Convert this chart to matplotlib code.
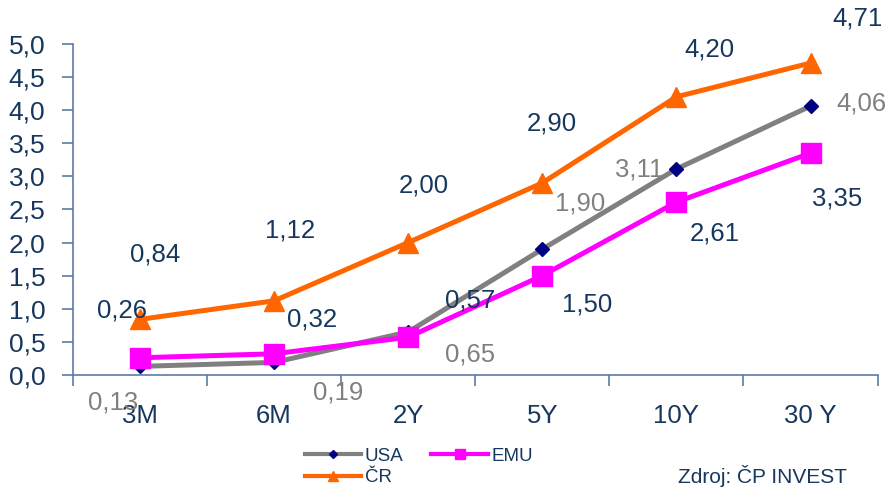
import matplotlib.pyplot as plt
from matplotlib.lines import Line2D
from matplotlib.ticker import FuncFormatter

plt.rcParams['font.family'] = ['Liberation Sans', 'DejaVu Sans']

categories = ['3M', '6M', '2Y', '5Y', '10Y', '30 Y']
usa = [0.13, 0.19, 0.65, 1.90, 3.11, 4.06]
emu = [0.26, 0.32, 0.57, 1.50, 2.61, 3.35]
cr = [0.84, 1.12, 2.00, 2.90, 4.20, 4.71]

# label offsets (pixels) as they sit in the original
usa_off = [(-27, -36), (64, -30), (62, -23), (38, 46), (-37, 0), (51, 3)]
emu_off = [(-18, 47), (38, 34), (62, 37), (45, -29), (38, -31), (27, -45)]
cr_off = [(15, 65), (16, 70), (16, 57), (10, 59), (33, 47), (47, 45)]

navy = '#17375E'
grey = '#808080'
spine = '#5B7BA8'

fig = plt.figure(figsize=(8.93, 4.87), dpi=100)
ax = fig.add_axes([0.0817, 0.23, 0.901, 0.68])
x = list(range(len(categories)))

ax.plot(x, usa, color=grey, lw=3.6, marker='D', ms=7,
        mfc='#000080', mec='#000080', zorder=3)
ax.plot(x, emu, color='#FF00FF', lw=3.6, marker='s', ms=14,
        mfc='#FF00FF', mec='#FF00FF', zorder=4)
ax.plot(x, cr, color='#FF6600', lw=3.6, marker='^', ms=15,
        mfc='#FF6600', mec='#FF6600', zorder=3)

def fmt(v):
    return f'{v:.2f}'.replace('.', ',')

for vals, offs, col in [(usa, usa_off, grey), (emu, emu_off, navy), (cr, cr_off, navy)]:
    for i, (v, o) in enumerate(zip(vals, offs)):
        ax.annotate(fmt(v), (i, v), xytext=o, textcoords='offset pixels',
                    ha='center', va='center', fontsize=18.5, color=col, zorder=5)

ax.set_xlim(-0.5, 5.5)
ax.set_ylim(0, 5)
ax.set_yticks([i * 0.5 for i in range(11)])
ax.yaxis.set_major_formatter(FuncFormatter(lambda v, p: f'{v:.1f}'.replace('.', ',')))
ax.set_xticks(x)
ax.set_xticklabels(categories)
ax.set_xticks([i - 0.5 for i in range(7)], minor=True)
ax.tick_params(axis='x', which='major', length=0, pad=21, labelsize=18.5, labelcolor=navy)
ax.tick_params(axis='x', which='minor', length=8, color=spine, width=1.2)
ax.tick_params(axis='y', length=8, color=spine, width=1.2, pad=12, labelsize=19,
               labelcolor=navy)

for s in ['top', 'right']:
    ax.spines[s].set_visible(False)
for s in ['left', 'bottom']:
    ax.spines[s].set_color(spine)
    ax.spines[s].set_linewidth(1.2)

# legend handles with small markers like the original
h_usa = Line2D([], [], color=grey, lw=3, marker='D', ms=4.5, mfc='#000080', mec='#000080')
h_cr = Line2D([], [], color='#FF6600', lw=3, marker='^', ms=7, mfc='#FF6600', mec='#FF6600')
h_emu = Line2D([], [], color='#FF00FF', lw=3, marker='s', ms=6.5, mfc='#FF00FF', mec='#FF00FF')
leg = fig.legend([h_usa, h_cr, h_emu], ['USA', 'ČR', 'EMU'], ncol=2,
                 loc='center', bbox_to_anchor=(0.469, 0.041), frameon=False,
                 fontsize=13.5, handlelength=3.0, columnspacing=1.5,
                 labelspacing=0.22, handletextpad=0.2, borderpad=0)
for t in leg.get_texts():
    t.set_color(navy)

fig.text(0.854, 0.008, 'Zdroj: ČP INVEST', ha='center', va='baseline',
         fontsize=15, color=navy)

fig.savefig('out.png', dpi=100)
